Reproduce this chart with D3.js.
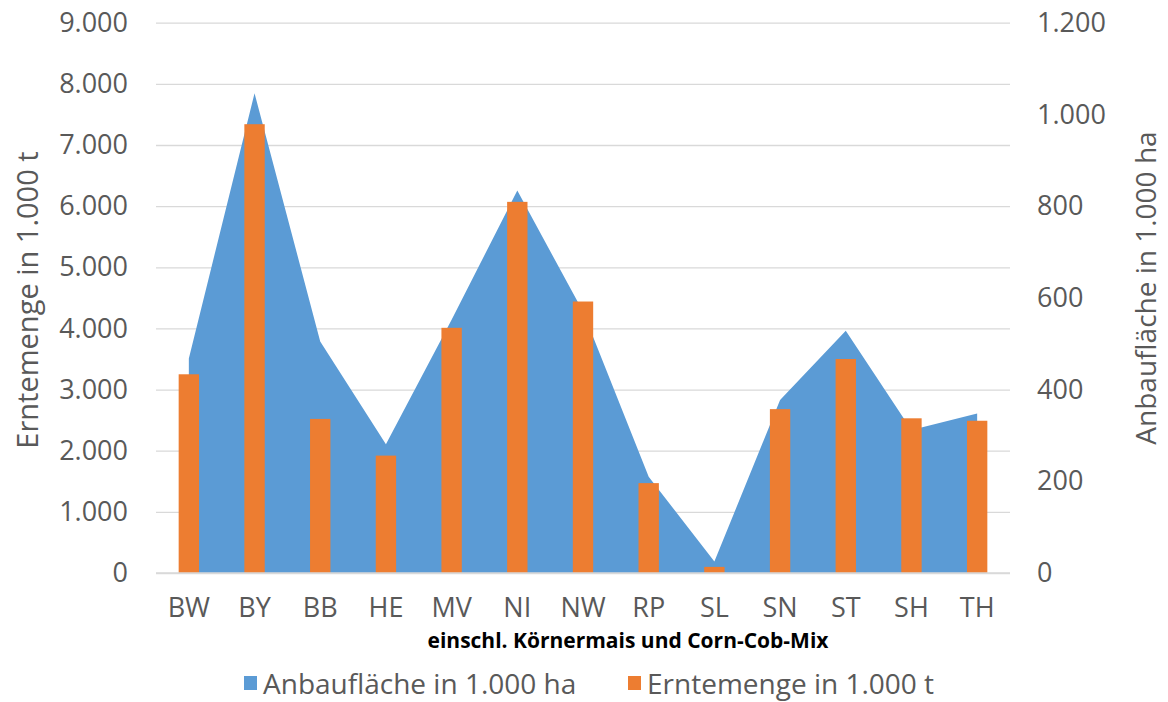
<!DOCTYPE html>
<html>
<head>
<meta charset="utf-8">
<script src="https://cdn.jsdelivr.net/npm/d3@7"></script>
<style>
  html, body { margin: 0; padding: 0; background: #fff; }
  svg { display: block; font-family: "Open Sans", "Noto Sans", sans-serif; }
</style>
</head>
<body>
<svg id="chart" width="1168" height="702"></svg>
<script>
const categories = ["BW","BY","BB","HE","MV","NI","NW","RP","SL","SN","ST","SH","TH"];
const anbauflaeche = [468, 1046, 505, 281, 552, 834, 570, 210, 25, 377, 528, 312, 348];
const erntemenge = [3250, 7340, 2520, 1920, 4010, 6070, 4440, 1470, 100, 2680, 3500, 2530, 2490];
const leftTicks = [0,1000,2000,3000,4000,5000,6000,7000,8000,9000];
const rightTicks = [0,200,400,600,800,1000,1200];
const leftTitle = "Erntemenge in 1.000 t";
const rightTitle = "Anbaufläche in 1.000 ha";
const xTitle = "einschl. Körnermais und Corn-Cob-Mix";
const seriesNames = ["Anbaufläche in 1.000 ha", "Erntemenge in 1.000 t"];

const BLUE = "#5B9BD5", ORANGE = "#ED7D31", TEXT = "#595959", GRID = "#d9d9d9";

const de = d3.formatLocale({decimal: ",", thousands: ".", grouping: [3], currency: ["", " €"]});
const fmt = de.format(",");

const svg = d3.select("#chart");
const plotL = 156, plotR = 1010, plotT = 22.7, plotB = 573;

const x = d3.scaleBand().domain(categories).range([plotL, plotR]).padding(0);
const cx = d => x(d) + x.bandwidth() / 2;
const yL = d3.scaleLinear().domain([0, 9000]).range([plotB, plotT]);
const yR = d3.scaleLinear().domain([0, 1200]).range([plotB, plotT]);

// gridlines
const grid = svg.append("g")
  .attr("transform", `translate(${plotL},0)`)
  .call(d3.axisLeft(yL).tickValues(leftTicks).tickSize(-(plotR - plotL)).tickFormat(""));
grid.select(".domain").remove();
grid.selectAll("line").attr("stroke", GRID).attr("stroke-width", 1.3);

// area
const area = d3.area()
  .x((d, i) => cx(categories[i]))
  .y0(yR(0))
  .y1(d => yR(d));
svg.append("path").datum(anbauflaeche).attr("d", area).attr("fill", BLUE);

// bars
const barW = x.bandwidth() * 0.31;
svg.append("g").selectAll("rect").data(erntemenge).join("rect")
  .attr("x", (d, i) => cx(categories[i]) - barW / 2)
  .attr("y", d => yL(d))
  .attr("width", barW)
  .attr("height", d => yL(0) - yL(d))
  .attr("fill", ORANGE);

// bottom axis line
svg.append("line").attr("x1", plotL).attr("x2", plotR).attr("y1", plotB).attr("y2", plotB)
  .attr("stroke", GRID).attr("stroke-width", 1.3);

// left axis labels
const la = svg.append("g").attr("transform", `translate(128,0)`)
  .call(d3.axisLeft(yL).tickValues(leftTicks).tickSize(0).tickPadding(0).tickFormat(fmt));
la.select(".domain").remove();
la.selectAll("text").attr("fill", TEXT).style("font-size", "27px").style("font-family", "'Open Sans', sans-serif");

// right axis labels
const ra = svg.append("g").attr("transform", `translate(1037,0)`)
  .call(d3.axisRight(yR).tickValues(rightTicks).tickSize(0).tickPadding(0).tickFormat(fmt));
ra.select(".domain").remove();
ra.selectAll("text").attr("fill", TEXT).style("font-size", "27px").style("font-family", "'Open Sans', sans-serif");

// category axis
const xa = svg.append("g").attr("transform", `translate(0,${plotB})`)
  .call(d3.axisBottom(x).tickSize(0).tickPadding(0));
xa.select(".domain").remove();
xa.selectAll("text").attr("y", 35).attr("dy", "0.35em").attr("fill", TEXT)
  .style("font-size", "27px").style("font-family", "'Open Sans', sans-serif");

// axis titles
svg.append("text").attr("transform", "translate(26,300) rotate(-90)")
  .attr("text-anchor", "middle").attr("dominant-baseline", "central")
  .attr("fill", TEXT).style("font-size", "29px").text(leftTitle);
svg.append("text").attr("transform", "translate(1145,288) rotate(-90)")
  .attr("text-anchor", "middle").attr("dominant-baseline", "central")
  .attr("fill", TEXT).style("font-size", "28px").text(rightTitle);
svg.append("text").attr("x", 628).attr("y", 640)
  .attr("text-anchor", "middle").attr("dominant-baseline", "central")
  .attr("fill", "#000").style("font-size", "21px").style("font-weight", "bold").text(xTitle);

// legend
const legend = [
  {name: seriesNames[0], color: BLUE, x: 244},
  {name: seriesNames[1], color: ORANGE, x: 628}
];
const lg = svg.append("g");
legend.forEach(l => {
  lg.append("rect").attr("x", l.x).attr("y", 676).attr("width", 13).attr("height", 14).attr("fill", l.color);
  lg.append("text").attr("x", l.x + 19).attr("y", 683).attr("dominant-baseline", "central")
    .attr("fill", TEXT).style("font-size", "28px").text(l.name);
});
</script>
</body>
</html>
